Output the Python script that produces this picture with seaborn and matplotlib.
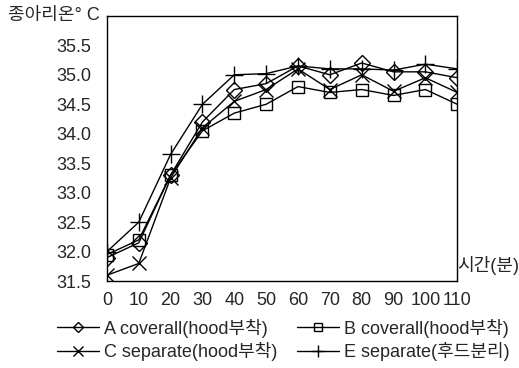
import matplotlib
matplotlib.use("Agg")
import matplotlib.pyplot as plt
import seaborn as sns
import pandas as pd
from matplotlib.lines import Line2D

sns.set_style("white")
plt.rcParams["font.family"] = ["Liberation Sans", "Noto Sans CJK KR"]

# Calf skin temperature over time for each garment type
time_min = [0, 10, 20, 30, 40, 50, 60, 70, 80, 90, 100, 110]
series_names = ["A coverall(hood부착)", "B coverall(hood부착)",
                "C separate(hood부착)", "E separate(후드분리)"]
temp_a = [31.9, 32.15, 33.3, 34.2, 34.75, 34.85, 35.15, 35.0, 35.2, 35.05, 35.05, 34.95]
temp_b = [31.95, 32.2, 33.3, 34.05, 34.35, 34.5, 34.8, 34.7, 34.75, 34.65, 34.75, 34.5]
temp_c = [31.6, 31.8, 33.25, 34.1, 34.55, 34.75, 35.1, 34.75, 35.0, 34.72, 34.95, 34.7]
temp_e = [32.0, 32.5, 33.65, 34.5, 35.0, 35.02, 35.15, 35.1, 35.1, 35.08, 35.18, 35.1]
y_ticks = [31.5, 32.0, 32.5, 33.0, 33.5, 34.0, 34.5, 35.0, 35.5]

df = pd.DataFrame({
    "time": time_min * 4,
    "temp": temp_a + temp_b + temp_c + temp_e,
    "series": sum([[n] * len(time_min) for n in series_names], []),
})

markers = {series_names[0]: "D", series_names[1]: "s",
           series_names[2]: "x", series_names[3]: "+"}
msizes = {"D": 8, "s": 9, "x": 10, "+": 13}

fig = plt.figure(figsize=(5.19, 3.68), dpi=100)
ax = fig.add_axes([0.206, 0.236, 0.675, 0.721])

for name in series_names:
    m = markers[name]
    sub = df[df["series"] == name]
    sns.lineplot(data=sub, x="time", y="temp", ax=ax, color="black",
                 linewidth=1.0, marker=m, markersize=msizes[m],
                 markerfacecolor="none" if m in "Ds" else "black",
                 markeredgecolor="black", markeredgewidth=1.0,
                 legend=False)

ax.set_xlim(0, 110)
ax.set_ylim(31.5, 36.0)
ax.set_xticks(time_min)
ax.set_xticklabels([str(t) for t in time_min], fontsize=13)
ax.set_yticks(y_ticks)
ax.set_yticklabels([f"{v:.1f}" for v in y_ticks], fontsize=13)
ax.tick_params(direction="in", length=5, width=1, color="black")
ax.tick_params(axis="y", pad=11)
ax.tick_params(axis="x", pad=8)
ax.set_xlabel("")
ax.set_ylabel("")
for s in ax.spines.values():
    s.set_visible(True)
    s.set_color("black")
    s.set_linewidth(1.0)

ax.text(-0.02, 1.0, "종아리온° C", transform=ax.transAxes, ha="right",
        va="center", fontsize=13)
ax.text(1.0, 0.06, "시간(분)", transform=ax.transAxes, ha="left",
        va="center", fontsize=13)

handles = []
for name in series_names:
    m = markers[name]
    handles.append(Line2D([], [], color="black", linewidth=1.0, marker=m,
                          markersize=msizes[m] * 0.7,
                          markerfacecolor="none" if m in "Ds" else "black",
                          markeredgecolor="black", label=name))
# two columns filled row by row: A, B on top; C, E below
order = [0, 2, 1, 3]
fig.legend([handles[i] for i in order], [series_names[i] for i in order],
           ncol=2, loc="center", bbox_to_anchor=(0.546, 0.076), frameon=False,
           fontsize=13, handlelength=2.3, handletextpad=0.3,
           columnspacing=1.1, labelspacing=0.25)

fig.savefig("out.png", dpi=100)
